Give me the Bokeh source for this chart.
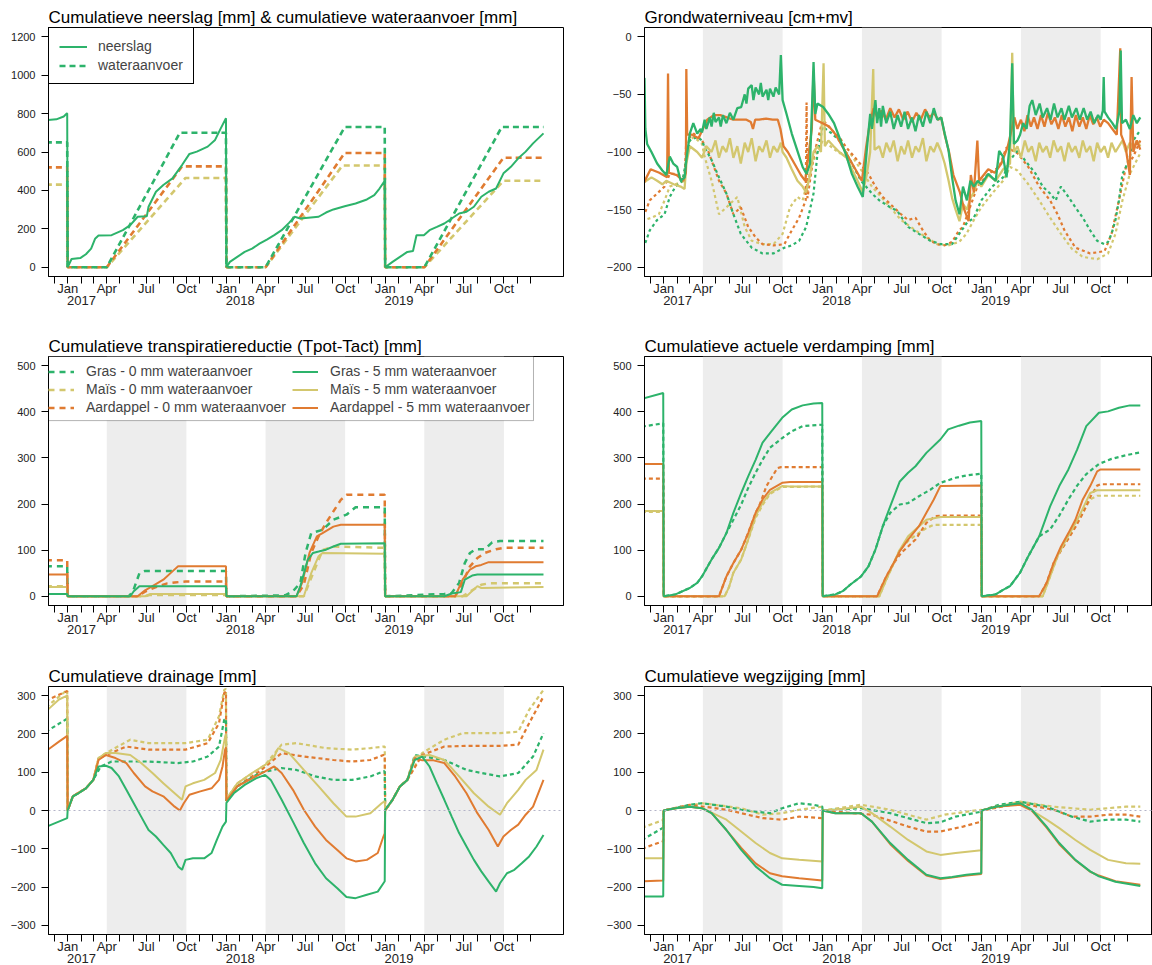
import datetime as dt
from bokeh.plotting import figure
from bokeh.layouts import column, row
from bokeh.models import (FixedTicker, LinearAxis, Range1d, Legend, LegendItem,
                          Span, BoxAnnotation)
from bokeh.embed import file_html
from bokeh.resources import INLINE

FONT = "Liberation Sans"
GREEN = "#2DB36B"
YELLOW = "#D3C76E"
ORANGE = "#E07B31"
SHADE = "#EDEDED"

# ---------------- DATA (x = days since 2017-01-01, y = value) ----------------
month_names = ["Jan", "", "", "Apr", "", "", "Jul", "", "", "Oct", "", ""]
years = ["2017", "2018", "2019"]
season_start = ["2017-04-01", "2018-04-01", "2019-04-01"]
season_end = ["2017-10-01", "2018-10-01", "2019-10-01"]

# Panel 1: cumulative precipitation and water supply [mm]
neerslag = [(-50,765),(-26,770),(-9,785),(-2,800),(-1,800),(0,0),(9,43),(29,48),(42,68),(54,97),(63,148),(71,165),(101,167),(127,193),(144,219),(161,263),(182,265),(186,315),(203,393),(220,428),(241,463),(263,532),(280,590),(297,602),(322,628),(339,663),(352,723),(364,776),(365,0),(373,28),(390,54),(407,80),(424,97),(441,123),(458,144),(475,167),(492,193),(509,231),(522,263),(535,254),(577,263),(594,285),(611,301),(637,318),(662,332),(688,353),(705,376),(717,410),(729,450),(730,0),(747,28),(764,54),(781,80),(794,85),(802,167),(819,167),(832,193),(849,210),(866,228),(883,254),(900,280),(917,289),(934,315),(951,367),(968,393),(985,410),(1002,489),(1019,523),(1036,567),(1053,602),(1070,645),(1094,697)]
aanvoer_gras = [(-50,650),(-1,650),(0,0),(90,0),(258,700),(364,700),(365,0),(455,0),(637,730),(729,730),(730,0),(820,0),(998,730),(1094,730)]
aanvoer_aard = [(-50,520),(-1,520),(0,0),(90,0),(263,525),(364,525),(365,0),(455,0),(637,595),(729,595),(730,0),(820,0),(1002,570),(1094,570)]
aanvoer_mais = [(-50,430),(-1,430),(0,0),(90,0),(271,465),(364,465),(365,0),(455,0),(632,530),(729,530),(730,0),(820,0),(1002,450),(1094,450)]

# Panel 2: groundwater level [cm+mv]
gw_gras5 = [(-50,-36),(-44,-36),(-42,-80),(-38,-93),(-28,-100),(-15,-110),(-3,-116),(6,-120),(14,-104),(22,-110),(31,-113),(39,-125),(48,-122),(52,-107),(60,-84),(68,-75),(77,-84),(85,-80),(88,-83),(94,-72),(98,-80),(106,-70),(110,-78),(115,-66),(119,-74),(127,-70),(131,-78),(136,-68),(144,-75),(152,-66),(160,-72),(169,-62),(178,-61),(186,-50),(190,-58),(194,-45),(202,-42),(206,-55),(211,-44),(219,-50),(223,-40),(227,-52),(236,-46),(240,-55),(244,-45),(252,-52),(257,-44),(265,-50),(269,-16),(273,-55),(282,-67),(294,-84),(307,-99),(319,-113),(328,-119),(336,-110),(344,-22),(348,-67),(353,-58),(366,-61),(378,-67),(391,-75),(403,-87),(420,-104),(432,-119),(445,-130),(457,-139),(466,-99),(474,-67),(478,-80),(486,-55),(490,-75),(495,-62),(499,-78),(503,-60),(511,-75),(520,-65),(528,-80),(537,-68),(545,-78),(553,-65),(561,-80),(570,-70),(578,-82),(586,-68),(595,-78),(603,-65),(612,-75),(620,-62),(628,-72),(637,-70),(645,-84),(654,-99),(662,-122),(670,-142),(679,-154),(687,-130),(696,-142),(704,-125),(712,-130),(721,-125),(729,-128),(745,-119),(762,-125),(770,-99),(779,-104),(787,-122),(795,-90),(800,-23),(804,-93),(812,-90),(818,-85),(825,-75),(833,-80),(840,-60),(846,-55),(854,-68),(863,-58),(870,-70),(880,-62),(888,-72),(896,-58),(904,-70),(913,-62),(920,-72),(930,-60),(937,-70),(947,-62),(955,-72),(964,-62),(972,-72),(980,-65),(988,-75),(997,-68),(1003,-72),(1008,-64),(1010,-35),(1012,-65),(1020,-70),(1030,-75),(1038,-80),(1046,-65),(1049,-12),(1052,-75),(1061,-72),(1070,-80),(1078,-68),(1086,-75),(1094,-70)]
gw_aard5 = [(-50,-130),(-30,-115),(-10,-118),(8,-122),(10,-32),(12,-118),(30,-120),(45,-125),(51,-118),(52,-28),(54,-85),(65,-85),(80,-88),(90,-80),(100,-72),(115,-68),(130,-68),(145,-70),(160,-72),(175,-72),(190,-72),(200,-74),(205,-80),(210,-72),(219,-72),(235,-71),(250,-72),(262,-72),(268,-80),(275,-95),(285,-100),(300,-110),(315,-120),(325,-125),(340,-80),(344,-30),(348,-72),(365,-75),(380,-78),(395,-85),(410,-95),(425,-105),(440,-115),(455,-125),(465,-95),(474,-73),(482,-62),(490,-70),(500,-64),(510,-72),(520,-62),(530,-70),(540,-63),(550,-72),(560,-65),(570,-74),(580,-66),(590,-72),(600,-63),(610,-70),(620,-66),(630,-72),(637,-70),(645,-85),(655,-100),(665,-120),(680,-135),(690,-150),(700,-160),(705,-120),(712,-135),(720,-90),(724,-125),(745,-115),(760,-118),(775,-110),(790,-95),(800,-78),(805,-70),(812,-80),(820,-72),(828,-82),(835,-68),(843,-78),(850,-70),(858,-80),(866,-68),(874,-78),(882,-66),(890,-76),(898,-70),(906,-80),(914,-68),(922,-78),(930,-70),(938,-82),(946,-68),(954,-78),(962,-70),(970,-80),(978,-68),(986,-76),(994,-70),(1002,-78),(1010,-72),(1020,-75),(1030,-80),(1040,-85),(1048,-10),(1050,-85),(1060,-95),(1066,-110),(1070,-120),(1074,-35),(1078,-100),(1086,-90),(1094,-98)]
gw_mais5 = [(-50,-128),(-40,-125),(-28,-122),(-15,-125),(-3,-128),(6,-125),(23,-128),(39,-130),(48,-132),(52,-110),(60,-95),(77,-100),(88,-105),(98,-95),(110,-100),(119,-90),(127,-105),(135,-95),(144,-100),(152,-88),(160,-105),(169,-95),(177,-110),(186,-92),(194,-100),(202,-88),(211,-108),(219,-95),(227,-100),(236,-90),(244,-105),(252,-95),(261,-100),(269,-92),(273,-100),(282,-105),(294,-115),(307,-125),(319,-130),(327,-135),(336,-120),(344,-100),(353,-95),(361,-100),(367,-23),(370,-95),(378,-90),(390,-95),(403,-100),(420,-105),(432,-115),(445,-125),(457,-135),(466,-120),(474,-100),(481,-28),(484,-98),(495,-95),(503,-105),(511,-92),(520,-100),(528,-90),(537,-108),(545,-95),(553,-102),(561,-90),(570,-105),(578,-95),(586,-100),(595,-88),(603,-108),(612,-95),(620,-100),(628,-92),(637,-100),(645,-110),(654,-125),(662,-140),(670,-150),(679,-160),(687,-145),(696,-150),(704,-140),(712,-135),(720,-125),(729,-130),(745,-120),(762,-125),(779,-115),(795,-110),(800,-14),(804,-100),(812,-95),(820,-105),(829,-90),(837,-100),(845,-95),(854,-108),(862,-92),(870,-100),(879,-95),(887,-105),(895,-90),(904,-100),(912,-95),(920,-108),(929,-92),(937,-100),(945,-95),(954,-105),(962,-90),(970,-100),(979,-95),(987,-108),(995,-92),(1003,-100),(1012,-95),(1020,-105),(1028,-92),(1037,-100),(1045,-95),(1053,-90),(1061,-100),(1070,-92),(1078,-98),(1086,-90),(1094,-95)]
gw_gras0 = [(-50,-183),(-44,-181),(-32,-168),(-15,-159),(2,-154),(14,-139),(27,-130),(43,-125),(52,-107),(60,-90),(77,-87),(88,-90),(94,-96),(110,-107),(127,-122),(144,-136),(160,-154),(177,-171),(202,-183),(227,-188),(252,-188),(277,-183),(294,-181),(311,-177),(327,-165),(344,-136),(353,-101),(365,-78),(386,-84),(403,-90),(419,-101),(428,-107),(453,-125),(478,-136),(495,-142),(520,-148),(536,-151),(561,-165),(586,-171),(612,-177),(637,-180),(662,-180),(695,-162),(712,-157),(729,-142),(754,-130),(779,-122),(795,-107),(812,-99),(829,-107),(854,-119),(870,-130),(887,-136),(900,-142),(908,-133),(912,-130),(929,-139),(945,-148),(962,-157),(979,-168),(995,-177),(1012,-180),(1020,-178),(1028,-171),(1037,-159),(1045,-142),(1053,-119),(1061,-113),(1070,-104),(1078,-90),(1094,-81)]
gw_aard0 = [(-50,-156),(-44,-154),(-32,-142),(-15,-136),(2,-130),(14,-119),(27,-119),(48,-122),(52,-90),(69,-84),(88,-90),(102,-99),(127,-125),(144,-136),(160,-154),(177,-148),(194,-165),(211,-174),(227,-180),(252,-181),(277,-180),(294,-168),(311,-157),(326,-142),(328,-57),(330,-140),(344,-104),(365,-72),(386,-81),(403,-87),(419,-96),(444,-107),(470,-119),(486,-130),(503,-139),(528,-148),(545,-154),(561,-159),(578,-157),(595,-168),(612,-177),(628,-180),(645,-181),(662,-178),(678,-168),(687,-165),(703,-148),(720,-130),(745,-119),(770,-113),(787,-96),(812,-101),(837,-113),(862,-130),(887,-142),(904,-154),(920,-168),(945,-183),(979,-188),(1012,-186),(1028,-171),(1045,-142),(1061,-113),(1078,-104),(1094,-90)]
gw_mais0 = [(-50,-160),(-44,-159),(-28,-157),(-11,-154),(2,-142),(14,-130),(27,-128),(48,-125),(54,-93),(69,-87),(88,-93),(94,-104),(110,-125),(127,-154),(144,-148),(169,-139),(186,-165),(202,-177),(227,-180),(252,-180),(273,-171),(290,-148),(307,-139),(319,-142),(327,-130),(344,-107),(365,-90),(386,-96),(403,-101),(428,-101),(478,-130),(520,-148),(545,-159),(578,-168),(603,-174),(628,-180),(653,-181),(678,-178),(695,-171),(712,-159),(729,-148),(754,-136),(779,-125),(795,-113),(812,-116),(837,-128),(862,-142),(887,-157),(912,-171),(937,-184),(962,-191),(995,-193),(1020,-188),(1037,-171),(1053,-142),(1070,-119),(1094,-101)]

# Panel 3: cumulative transpiration reduction [mm]
transp_gras0 = [(-50,65),(-1,65),(0,0),(140,0),(150,10),(165,50),(178,55),(364,55),(365,0),(500,2),(518,11),(535,29),(547,94),(560,137),(586,144),(611,166),(641,177),(662,193),(729,193),(730,0),(866,5),(883,7),(900,29),(913,72),(925,94),(938,102),(959,102),(976,117),(994,120),(1094,120)]
transp_mais0 = [(-50,22),(-1,22),(0,0),(178,0),(190,3),(364,3),(365,0),(543,0),(586,100),(611,108),(729,105),(730,0),(908,0),(951,25),(968,28),(1094,28)]
transp_aard0 = [(-50,78),(-1,78),(0,0),(161,0),(178,10),(203,20),(229,28),(246,30),(271,32),(364,32),(365,0),(526,0),(543,25),(560,94),(577,130),(594,159),(611,184),(628,209),(641,220),(729,220),(730,0),(891,0),(908,29),(925,65),(942,83),(959,94),(985,102),(1002,105),(1094,105)]
transp_gras5 = [(-50,5),(-1,5),(0,0),(144,0),(152,11),(165,22),(364,22),(365,0),(526,0),(535,22),(552,79),(564,94),(577,97),(594,101),(611,108),(628,114),(729,115),(730,0),(866,0),(883,6),(904,9),(913,36),(930,45),(942,47),(1094,47)]
transp_mais5 = [(-50,20),(-1,20),(0,0),(178,0),(190,5),(364,5),(365,0),(543,0),(560,50),(577,87),(586,94),(729,92),(730,0),(917,0),(942,22),(951,18),(1094,20)]
transp_aard5 = [(-50,47),(-1,47),(0,0),(161,0),(178,13),(195,22),(220,36),(241,54),(254,65),(364,65),(365,0),(526,0),(539,29),(556,94),(573,130),(586,137),(611,151),(628,155),(729,155),(730,0),(891,0),(908,36),(925,58),(938,65),(951,68),(968,74),(1094,74)]

# Panel 4: cumulative actual evapotranspiration [mm]
evap_gras5 = [(-50,428),(-1,441),(0,0),(27,4),(60,18),(77,29),(88,43),(110,80),(127,105),(144,137),(160,181),(178,224),(194,260),(211,296),(227,333),(244,354),(272,387),(294,405),(319,414),(344,418),(364,419),(365,0),(394,4),(411,11),(428,25),(453,43),(470,65),(486,101),(503,152),(520,195),(542,249),(561,268),(578,282),(603,311),(635,340),(653,362),(678,370),(703,377),(729,380),(730,0),(762,4),(779,14),(795,22),(818,51),(837,87),(862,130),(887,195),(908,239),(929,275),(949,318),(970,369),(999,398),(1020,401),(1045,409),(1070,414),(1094,414)]
evap_gras0 = [(-50,368),(-1,375),(0,0),(27,4),(60,18),(77,29),(88,43),(110,80),(127,105),(144,137),(160,166),(178,199),(194,235),(211,268),(227,296),(244,322),(272,343),(294,358),(319,369),(364,372),(365,0),(394,4),(411,11),(428,25),(453,43),(470,65),(486,101),(503,152),(520,181),(542,199),(561,202),(586,217),(612,231),(635,246),(670,257),(695,262),(729,266),(730,0),(762,4),(779,14),(795,22),(818,51),(837,87),(862,130),(887,145),(908,175),(929,210),(949,240),(970,265),(999,287),(1028,298),(1061,306),(1094,312)]
evap_aard5 = [(-50,287),(-1,287),(0,0),(127,0),(144,43),(160,72),(178,101),(194,137),(211,181),(227,210),(244,231),(272,246),(290,248),(364,248),(365,0),(490,0),(511,43),(528,72),(542,98),(561,123),(586,152),(603,181),(620,210),(635,239),(729,240),(730,0),(862,0),(879,29),(895,72),(912,108),(929,137),(945,166),(962,210),(979,239),(995,271),(1003,275),(1094,275)]
evap_aard0 = [(-50,255),(-1,255),(0,0),(127,0),(144,43),(160,72),(178,101),(194,137),(211,181),(219,195),(236,239),(261,278),(269,280),(364,280),(365,0),(490,0),(511,43),(528,72),(545,94),(561,108),(578,123),(603,159),(624,174),(640,175),(729,175),(730,0),(862,0),(879,29),(895,72),(912,100),(929,125),(945,150),(962,180),(979,215),(995,240),(1003,243),(1094,243)]
evap_mais5 = [(-50,185),(-1,185),(0,0),(140,0),(150,20),(160,51),(178,80),(194,123),(211,174),(227,202),(244,224),(272,239),(290,238),(364,238),(365,0),(495,0),(511,36),(542,101),(561,130),(578,145),(603,166),(635,172),(729,172),(730,0),(870,0),(887,43),(904,87),(920,116),(937,145),(954,174),(979,224),(995,230),(1094,230)]
evap_mais0 = [(-50,183),(-1,183),(0,0),(140,0),(150,20),(160,51),(178,80),(194,123),(211,170),(227,198),(244,222),(272,237),(364,238),(365,0),(495,0),(511,36),(542,101),(561,120),(578,132),(603,148),(620,155),(729,155),(730,0),(870,0),(887,43),(904,87),(920,112),(937,140),(954,168),(979,210),(995,218),(1094,218)]

# Panel 5: cumulative drainage [mm]
drain_gras5 = [(-50,-45),(-44,-40),(-1,-20),(0,0),(12,37),(25,45),(42,58),(59,80),(71,115),(88,117),(101,111),(118,89),(135,54),(152,19),(169,-16),(186,-51),(203,-68),(220,-90),(237,-111),(254,-146),(263,-155),(271,-129),(288,-125),(314,-125),(331,-111),(343,-77),(356,-42),(364,-29),(365,20),(382,45),(407,67),(433,84),(454,93),(467,80),(492,28),(518,-29),(543,-85),(569,-138),(594,-177),(620,-203),(641,-226),(662,-229),(688,-220),(713,-212),(726,-190),(729,-185),(730,2),(747,28),(764,63),(781,80),(798,132),(815,141),(832,115),(849,71),(866,28),(883,-16),(900,-59),(917,-94),(934,-129),(951,-159),(968,-186),(985,-212),(994,-190),(1010,-164),(1027,-155),(1044,-138),(1061,-120),(1078,-94),(1094,-64)]
drain_aard5 = [(-50,150),(-44,160),(-20,180),(-1,195),(0,0),(12,37),(42,58),(59,80),(71,132),(88,145),(110,137),(135,124),(152,98),(178,63),(195,50),(220,37),(246,10),(258,0),(267,19),(280,41),(305,50),(331,58),(348,80),(356,115),(362,159),(364,165),(365,25),(390,63),(424,84),(454,102),(475,115),(492,98),(518,54),(543,2),(569,-42),(594,-77),(620,-103),(641,-125),(662,-133),(688,-129),(713,-111),(726,-68),(729,-60),(730,0),(747,28),(764,63),(781,80),(798,137),(815,131),(841,131),(866,124),(891,89),(917,45),(942,-7),(968,-51),(989,-94),(1002,-68),(1019,-51),(1036,-37),(1053,-11),(1070,10),(1094,80)]
drain_mais5 = [(-50,260),(-44,265),(-20,290),(-1,300),(0,0),(12,37),(42,58),(59,80),(71,137),(88,150),(110,150),(144,145),(169,124),(195,98),(220,71),(246,45),(263,28),(271,63),(288,71),(314,80),(339,98),(352,132),(362,193),(364,200),(365,30),(390,71),(424,98),(454,119),(475,141),(484,163),(509,150),(543,106),(577,63),(611,19),(641,-16),(662,-16),(696,-7),(722,19),(729,25),(730,0),(747,28),(764,63),(781,80),(798,141),(832,145),(866,132),(900,89),(934,45),(968,10),(994,-11),(1010,19),(1036,54),(1053,80),(1078,106),(1094,159)]
drain_gras0 = [(-50,205),(-44,210),(-1,240),(0,0),(12,37),(42,58),(59,80),(76,115),(101,128),(186,128),(254,124),(288,128),(322,141),(348,167),(360,237),(364,240),(365,25),(390,63),(441,98),(492,111),(526,106),(569,89),(611,80),(654,80),(696,89),(726,102),(729,102),(730,0),(747,28),(764,63),(781,80),(798,145),(866,132),(917,106),(951,98),(994,89),(1036,98),(1070,141),(1094,202)]
drain_aard0 = [(-50,285),(-44,290),(-1,312),(0,0),(12,37),(42,58),(59,80),(71,135),(88,145),(135,167),(186,159),(271,159),(322,176),(348,228),(360,307),(364,310),(365,25),(390,63),(441,102),(492,150),(543,141),(611,132),(654,128),(696,132),(726,145),(729,145),(730,0),(747,28),(764,63),(781,80),(815,145),(866,167),(917,169),(994,169),(1036,172),(1061,228),(1094,298)]
drain_mais0 = [(-50,270),(-44,275),(-1,315),(0,0),(12,37),(42,58),(59,80),(71,137),(88,150),(144,185),(186,176),(271,176),(322,185),(348,246),(360,315),(364,318),(365,30),(390,71),(454,119),(492,172),(526,176),(594,163),(654,159),(696,163),(726,167),(729,167),(730,0),(747,28),(764,63),(781,80),(815,150),(866,185),(908,202),(994,202),(1036,206),(1061,263),(1094,315)]

# Panel 6: cumulative downward seepage [mm]
wegz_gras5 = [(-50,-225),(-3,-225),(-1,-224),(0,0),(27,6),(60,10),(88,6),(110,-7),(144,-51),(178,-103),(211,-146),(244,-177),(272,-194),(311,-197),(344,-200),(364,-203),(365,0),(394,-7),(453,-7),(478,-29),(520,-85),(561,-129),(603,-168),(635,-177),(662,-174),(695,-168),(729,-164),(730,0),(762,10),(818,19),(845,2),(879,-42),(908,-85),(945,-129),(979,-159),(999,-172),(1037,-186),(1094,-197)]
wegz_aard5 = [(-50,-185),(-1,-183),(0,0),(27,6),(60,10),(88,6),(110,-7),(144,-51),(178,-98),(211,-138),(244,-164),(272,-172),(311,-177),(364,-183),(365,0),(394,-7),(453,-7),(478,-29),(520,-88),(561,-132),(603,-170),(635,-179),(662,-175),(695,-170),(729,-166),(730,0),(762,10),(818,15),(845,0),(879,-45),(908,-88),(945,-130),(979,-160),(999,-170),(1037,-185),(1094,-194)]
wegz_mais5 = [(-50,-125),(-1,-125),(0,0),(27,6),(60,10),(88,6),(144,-24),(178,-55),(211,-85),(244,-111),(272,-125),(311,-129),(364,-133),(365,0),(394,2),(453,10),(478,-7),(520,-42),(561,-77),(603,-107),(635,-116),(670,-111),(729,-104),(730,0),(762,10),(818,19),(879,-24),(908,-46),(945,-77),(979,-103),(1020,-129),(1061,-138),(1094,-139)]
wegz_gras0 = [(-50,-77),(-3,-46),(-1,-45),(0,0),(60,15),(88,19),(144,10),(178,2),(211,-3),(244,-7),(272,6),(311,19),(344,15),(364,10),(365,0),(394,2),(453,6),(520,-7),(561,-20),(603,-33),(635,-31),(670,-16),(729,-3),(730,0),(770,15),(818,23),(879,10),(937,-16),(979,-29),(1020,-24),(1061,-24),(1094,-29)]
wegz_aard0 = [(-50,-100),(-1,-80),(0,0),(60,15),(144,2),(178,-7),(227,-20),(272,-24),(311,-16),(364,-20),(365,0),(478,-11),(561,-42),(603,-55),(635,-55),(687,-42),(729,-29),(730,0),(818,19),(895,2),(937,-16),(979,-16),(1020,-11),(1061,-11),(1094,-16)]
wegz_mais0 = [(-50,-45),(-1,-25),(0,0),(88,19),(178,6),(227,-11),(272,-7),(311,2),(364,10),(365,0),(453,15),(520,2),(561,-11),(603,-24),(645,-11),(729,2),(730,0),(818,23),(895,10),(979,2),(1020,6),(1061,10),(1094,10)]

# ---------------- helpers ----------------
BASE = dt.date(2017, 1, 1)


def day(s):
    return (dt.date.fromisoformat(s) - BASE).days


month_ticks, month_labels = [], {}
for yy in (2016, 2017, 2018, 2019):
    for mm in range(1, 13):
        d = dt.date(yy, mm, 1)
        if dt.date(2016, 12, 1) <= d <= dt.date(2019, 12, 1):
            t = (d - BASE).days
            month_ticks.append(t)
            month_labels[t] = month_names[mm - 1]

YEAR_SHIFT = 32  # year label sits a little right of the January tick
year_ticks, year_labels = [], {}
for y in years:
    t = day(y + "-01-01") + YEAR_SHIFT
    year_ticks.append(t)
    year_labels[t] = y


def style_axis(ax, size):
    ax.axis_line_color = "black"
    ax.major_tick_line_color = "black"
    ax.major_tick_out = 7
    ax.major_tick_in = 0
    ax.minor_tick_line_color = None
    ax.major_label_text_font = FONT
    ax.major_label_text_font_size = size
    ax.major_label_text_color = "#222222"


def make_fig(title, yr, yticks, left, height, top, bottom, shade=True):
    p = figure(width=576, height=height,
               x_range=Range1d(-44, 1140 if left else 1122),
               y_range=Range1d(*yr),
               output_backend="svg", toolbar_location=None,
               min_border_left=48 if left else 68,
               min_border_right=13 if left else 0,
               min_border_top=top, min_border_bottom=bottom,
               title=title)
    p.grid.visible = False
    p.outline_line_color = "black"
    p.outline_line_alpha = 1
    p.outline_line_width = 1
    p.background_fill_color = "white"
    p.border_fill_color = "white"
    t = p.title
    t.text_font = FONT
    t.text_font_size = "17px"
    t.text_font_style = "normal"
    t.text_color = "black"
    t.align = "left"
    t.offset = 0
    t.standoff = 1
    xa = p.xaxis[0]
    xa.ticker = FixedTicker(ticks=month_ticks)
    xa.major_label_overrides = month_labels
    style_axis(xa, "13px")
    xa.major_label_standoff = -3
    ya = p.yaxis[0]
    ya.ticker = FixedTicker(ticks=yticks)
    style_axis(ya, "11px")
    ya.major_label_standoff = 6
    yax = LinearAxis(ticker=FixedTicker(ticks=year_ticks),
                     major_label_overrides=year_labels)
    style_axis(yax, "13px")
    yax.axis_line_color = None
    yax.major_tick_line_color = None
    yax.major_label_standoff = -10
    p.add_layout(yax, "below")
    if shade:
        for s, e in zip(season_start, season_end):
            p.add_layout(BoxAnnotation(left=day(s), right=day(e), fill_color=SHADE,
                                       fill_alpha=1, line_color=None, level="underlay"))
    return p


def add_line(p, pts, color, dash="solid", width=2.0):
    return p.line([a for a, b in pts], [b for a, b in pts], line_color=color,
                  line_width=width, line_dash=dash)


def zero_line(p):
    p.add_layout(Span(location=0, dimension="width", line_color="#B4B4C8",
                      line_dash="2 3", line_width=1, level="glyph"))


# ---------------- Panel 1 ----------------
p1 = make_fig("Cumulatieve neerslag [mm] & cumulatieve wateraanvoer [mm]",
              (-48, 1248), [0, 200, 400, 600, 800, 1000, 1200], True, 320, 27, 44,
              shade=False)
add_line(p1, aanvoer_mais, YELLOW, "6 4", 2.6)
add_line(p1, aanvoer_aard, ORANGE, "6 4", 2.6)
r_wa = add_line(p1, aanvoer_gras, GREEN, "6 4", 2.6)
r_ns = add_line(p1, neerslag, GREEN, "solid", 2.0)
leg1 = Legend(items=[LegendItem(label="neerslag", renderers=[r_ns]),
                     LegendItem(label="wateraanvoer", renderers=[r_wa])],
              location="top_left", margin=0, padding=10, spacing=3,
              border_line_color="black", border_line_width=1, border_line_alpha=1,
              background_fill_color="white", background_fill_alpha=1,
              label_text_font=FONT, label_text_font_size="14px",
              glyph_width=28, glyph_height=15, label_height=15, label_standoff=11)
p1.add_layout(leg1)

# ---------------- Panel 2 ----------------
p2 = make_fig("Grondwaterniveau [cm+mv]", (-208, 8), [0, -50, -100, -150, -200],
              False, 320, 27, 44)
add_line(p2, gw_mais0, YELLOW, "3 3", 2.2)
add_line(p2, gw_aard0, ORANGE, "3 3", 2.2)
add_line(p2, gw_gras0, GREEN, "3 3", 2.2)
add_line(p2, gw_mais5, YELLOW, "solid", 2.3)
add_line(p2, gw_aard5, ORANGE, "solid", 2.3)
add_line(p2, gw_gras5, GREEN, "solid", 2.3)

# ---------------- Panel 3 ----------------
p3 = make_fig("Cumulatieve transpiratiereductie (Tpot-Tact) [mm]", (-20, 520),
              [0, 100, 200, 300, 400, 500], True, 325, 36, 40)
p3.add_layout(BoxAnnotation(right=1071, bottom=381, fill_color="white", fill_alpha=1,
                            line_color="black", line_width=1, level="underlay"))
r_m0 = add_line(p3, transp_mais0, YELLOW, "6 5", 2.5)
r_a0 = add_line(p3, transp_aard0, ORANGE, "6 5", 2.5)
r_g0 = add_line(p3, transp_gras0, GREEN, "6 5", 2.5)
r_m5 = add_line(p3, transp_mais5, YELLOW, "solid", 2.0)
r_a5 = add_line(p3, transp_aard5, ORANGE, "solid", 2.0)
r_g5 = add_line(p3, transp_gras5, GREEN, "solid", 2.0)
leg_kw = dict(margin=0, padding=8, spacing=2, border_line_color=None,
              background_fill_alpha=0, label_text_font=FONT,
              label_text_font_size="14px", glyph_width=26, glyph_height=15,
              label_height=15, label_standoff=12)
leg3a = Legend(items=[LegendItem(label="Gras - 0 mm wateraanvoer", renderers=[r_g0]),
                      LegendItem(label="Maïs - 0 mm wateraanvoer", renderers=[r_m0]),
                      LegendItem(label="Aardappel - 0 mm wateraanvoer", renderers=[r_a0])],
               location=(0, 190), **leg_kw)
leg3b = Legend(items=[LegendItem(label="Gras - 5 mm wateraanvoer", renderers=[r_g5]),
                      LegendItem(label="Maïs - 5 mm wateraanvoer", renderers=[r_m5]),
                      LegendItem(label="Aardappel - 5 mm wateraanvoer", renderers=[r_a5])],
               location=(244, 190), **leg_kw)
p3.add_layout(leg3a)
p3.add_layout(leg3b)

# ---------------- Panel 4 ----------------
p4 = make_fig("Cumulatieve actuele verdamping [mm]", (-20, 520),
              [0, 100, 200, 300, 400, 500], False, 325, 36, 40)
add_line(p4, evap_mais0, YELLOW, "4 3", 2.2)
add_line(p4, evap_aard0, ORANGE, "4 3", 2.2)
add_line(p4, evap_gras0, GREEN, "4 3", 2.2)
add_line(p4, evap_mais5, YELLOW, "solid", 2.0)
add_line(p4, evap_aard5, ORANGE, "solid", 2.0)
add_line(p4, evap_gras5, GREEN, "solid", 2.0)

# ---------------- Panel 5 ----------------
p5 = make_fig("Cumulatieve drainage [mm]", (-324, 324),
              [-300, -200, -100, 0, 100, 200, 300], True, 320, 41, 30)
zero_line(p5)
add_line(p5, drain_mais0, YELLOW, "4 3", 2.2)
add_line(p5, drain_aard0, ORANGE, "4 3", 2.2)
add_line(p5, drain_gras0, GREEN, "4 3", 2.2)
add_line(p5, drain_mais5, YELLOW, "solid", 2.0)
add_line(p5, drain_aard5, ORANGE, "solid", 2.0)
add_line(p5, drain_gras5, GREEN, "solid", 2.0)

# ---------------- Panel 6 ----------------
p6 = make_fig("Cumulatieve wegzijging [mm]", (-324, 324),
              [-300, -200, -100, 0, 100, 200, 300], False, 320, 41, 30)
zero_line(p6)
add_line(p6, wegz_mais0, YELLOW, "4 3", 2.2)
add_line(p6, wegz_aard0, ORANGE, "4 3", 2.2)
add_line(p6, wegz_gras0, GREEN, "4 3", 2.2)
add_line(p6, wegz_mais5, YELLOW, "solid", 2.0)
add_line(p6, wegz_aard5, ORANGE, "solid", 2.0)
add_line(p6, wegz_gras5, GREEN, "solid", 2.0)

layout = column(row(p1, p2), row(p3, p4), row(p5, p6))
open("out.html", "w").write(file_html(layout, INLINE))
